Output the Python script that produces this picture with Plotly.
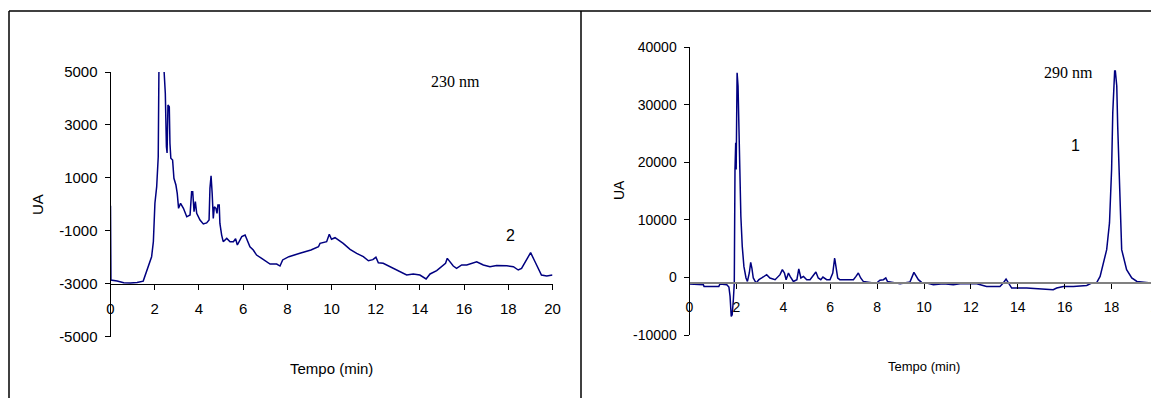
import plotly.graph_objects as go

# page body has an 8px margin: the figure starts 8px in, and the window clips it
OFF = 8
W, H = 1159, 398

# ---------------- data: 230 nm chromatogram ----------------
t230 = [0, 0.02, 0.3, 0.6, 0.9, 1.2, 1.48, 1.71, 1.86, 1.94,
        2.01, 2.09, 2.16, 2.19, 2.30, 2.42, 2.48, 2.53, 2.56, 2.60,
        2.66, 2.69, 2.73, 2.81, 2.87, 2.96, 3.02, 3.08, 3.17, 3.30,
        3.45, 3.60, 3.67, 3.72, 3.78, 3.84, 3.90, 4.05, 4.20, 4.35,
        4.46, 4.50, 4.55, 4.60, 4.65, 4.70, 4.77, 4.82, 4.86, 4.92,
        4.95, 5.03, 5.10, 5.26, 5.41, 5.56, 5.66, 5.74, 5.94, 6.09,
        6.19, 6.31, 6.46, 6.61, 6.84, 7.07, 7.22, 7.52, 7.67, 7.79,
        8.07, 8.57, 9.07, 9.41, 9.48, 9.78, 9.90, 10.0, 10.16, 10.53,
        10.84, 11.14, 11.44, 11.67, 11.87, 12.01, 12.12, 12.34, 12.65, 12.95,
        13.25, 13.40, 13.70, 14.00, 14.28, 14.46, 14.76, 14.99, 15.16, 15.24,
        15.36, 15.51, 15.66, 15.89, 16.12, 16.34, 16.57, 16.87, 17.17, 17.47,
        17.93, 18.23, 18.45, 18.60, 18.83, 19.01, 19.21, 19.43, 19.50, 19.74,
        20.0]
ua230 = [-50, -2860, -2900, -2960, -2970, -2950, -2900, -2355, -1978, -1411,
         40, 667, 1800, 4960, 7000, 5100, 4195, 2180, 1940, 3753,
         3690, 2306, 1740, 1675, 985, 730, 417, -150, 40, -150,
         -470, -400, 478, 478, -280, 100, -340, -590, -740, -700,
         -590, 606, 1080, 417, -530, -90, -150, -340, -25, -25,
         -720, -1160, -1411, -1285, -1411, -1411, -1300, -1535, -1220, -1160,
         -1350, -1600, -1725, -1915, -2040, -2167, -2255, -2255, -2330, -2100,
         -1977, -1850, -1725, -1600, -1473, -1411, -1130, -1320, -1260, -1473,
         -1700, -1850, -1977, -2130, -2090, -2000, -2205, -2227, -2355, -2480,
         -2580, -2670, -2630, -2670, -2820, -2630, -2505, -2355, -2227, -2040,
         -2167, -2330, -2420, -2290, -2290, -2227, -2167, -2290, -2355, -2310,
         -2320, -2355, -2480, -2420, -2100, -1825, -2167, -2545, -2670, -2710,
         -2670]

# ---------------- data: 290 nm chromatogram ----------------
t290 = [0, 0.59, 0.62, 1.25, 1.30, 1.59, 1.68, 1.73, 1.78, 1.82,
        1.87, 1.91, 1.94, 1.97, 1.99, 2.03, 2.07, 2.11, 2.15, 2.19,
        2.25, 2.32, 2.41, 2.47, 2.55, 2.61, 2.66, 2.72, 2.84, 2.96,
        3.08, 3.29, 3.43, 3.65, 3.86, 3.96, 4.05, 4.12, 4.22, 4.29,
        4.43, 4.58, 4.66, 4.75, 4.86, 5.00, 5.14, 5.28, 5.39, 5.49,
        5.60, 5.69, 5.85, 5.99, 6.11, 6.19, 6.25, 6.32, 6.41, 6.99,
        7.10, 7.20, 7.30, 7.41, 7.84, 7.98, 8.12, 8.27, 8.37, 8.44,
        8.98, 9.40, 9.57, 9.76, 9.90, 10.12, 10.40, 10.83, 11.25, 11.54,
        12.25, 12.67, 13.24, 13.38, 13.50, 13.60, 13.74, 14.38, 14.95, 15.24,
        15.51, 15.66, 15.94, 16.37, 16.94, 17.15, 17.37, 17.51, 17.62, 17.72,
        17.79, 17.91, 18.00, 18.05, 18.10, 18.13, 18.16, 18.22, 18.26, 18.33,
        18.38, 18.43, 18.64, 18.86, 19.08, 19.50, 19.78, 20.0]
ua290 = [-1150, -1270, -1565, -1565, -1150, -1270, -1670, -3300, -6780, -6490,
         -3880, -975, 18730, 23370, 18730, 35540, 33220, 23370, 14680, 10610,
         5390, 1910, -100, -700, 765, 2610, 1630, -100, -975, -400,
         -100, 470, -100, -400, 470, 1340, 765, -400, 765, 175,
         -700, -400, 1460, -100, 175, -400, -400, 470, 940, -100,
         -400, 50, -400, -400, 765, 3370, 1910, -100, -400, -400,
         175, 765, -100, -700, -975, -975, -500, -400, -100, -700,
         -1100, -800, 870, -400, -870, -975, -1270, -1100, -1270, -1100,
         -1100, -1565, -1565, -975, -280, -975, -1845, -1845, -1965, -2140,
         -2140, -1845, -1565, -1565, -1390, -975, -870, 175, 1910, 3650,
         4820, 9460, 18730, 28590, 33800, 35820, 35820, 33220, 26260, 18730,
         10000, 4820, 1340, -100, -700, -870, -975, -1150]

x_ticks = [0, 2, 4, 6, 8, 10, 12, 14, 16, 18, 20]
y_ticks_230 = [-5000, -3000, -1000, 1000, 3000, 5000]
y_ticks_290 = [-10000, 0, 10000, 20000, 30000, 40000]
x_range = [0, 20]
y_range_230 = [-5000, 5000]
y_range_290 = [-10000, 40000]
x_cross_230 = -3000
x_cross_290 = -1000

SANS = "Liberation Sans, Arial, sans-serif"
SERIF = "Liberation Serif, Times New Roman, serif"
LINE = "#000080"


def px(v):
    # window pixel -> paper fraction
    return (v - OFF) / W


def py(v):
    return 1 - (v - OFF) / H


xd1 = [px(110.5), px(552.5)]
yd1 = [py(336.7), py(72)]
xd2 = [px(689.5), px(1158.5)]
yd2 = [py(335), py(47)]


def cross_pos(dom, rng, val):
    return dom[0] + (val - rng[0]) / (rng[1] - rng[0]) * (dom[1] - dom[0])


fig = go.Figure()
fig.add_trace(go.Scatter(x=t230, y=ua230, mode="lines", xaxis="x", yaxis="y",
                         line=dict(color=LINE, width=1.5)))
fig.add_trace(go.Scatter(x=t290, y=ua290, mode="lines", xaxis="x2", yaxis="y2",
                         line=dict(color=LINE, width=1.5)))

common_x = dict(range=x_range, tickvals=x_ticks, ticktext=[str(v) for v in x_ticks],
                ticks="outside", ticklen=5, automargin=False, ticklabeloverflow="allow",
                tickcolor="black", showgrid=False, zeroline=False, showline=True,
                anchor="free", ticklabelstandoff=6)
common_y = dict(ticks="outside", ticklen=5, tickcolor="black", showgrid=False,
                zeroline=False, showline=True, linecolor="black", linewidth=1,
                ticklabelstandoff=4, automargin=False)

fig.update_layout(
    width=W, height=H, margin=dict(l=0, r=0, t=0, b=0, pad=0, autoexpand=False),
    paper_bgcolor="white", plot_bgcolor="white", showlegend=False,
    xaxis=dict(domain=xd1, position=cross_pos(yd1, y_range_230, x_cross_230),
               linecolor="black", linewidth=1,
               tickfont=dict(family=SANS, size=15, color="black"), **common_x),
    yaxis=dict(domain=yd1, range=y_range_230, tickvals=y_ticks_230,
               ticktext=[str(v) for v in y_ticks_230], anchor="x",
               tickfont=dict(family=SANS, size=15, color="black"), **common_y),
    xaxis2=dict(domain=xd2, position=cross_pos(yd2, y_range_290, x_cross_290),
                linecolor="#808080", linewidth=2,
                tickfont=dict(family=SANS, size=14, color="black"), **common_x),
    yaxis2=dict(domain=yd2, range=y_range_290, tickvals=y_ticks_290,
                ticktext=[str(v) for v in y_ticks_290], anchor="x2",
                tickfont=dict(family=SANS, size=14, color="black"), **common_y),
)

ann = [
    dict(text="230 nm", x=15.63, y=4660, xref="x", yref="y",
         font=dict(family=SERIF, size=16, color="black")),
    dict(text="2", x=18.08, y=-1184, xref="x", yref="y",
         font=dict(family=SANS, size=16, color="black")),
    dict(text="290 nm", x=16.17, y=35650, xref="x2", yref="y2",
         font=dict(family=SERIF, size=16, color="black")),
    dict(text="1", x=16.48, y=22957, xref="x2", yref="y2",
         font=dict(family=SANS, size=16, color="black")),
    dict(text="UA", x=px(37), y=py(205), xref="paper", yref="paper", textangle=-90,
         font=dict(family=SANS, size=15, color="black")),
    dict(text="UA", x=px(619), y=py(190), xref="paper", yref="paper", textangle=-90,
         font=dict(family=SANS, size=14, color="black")),
    dict(text="Tempo (min)", x=px(331.5), y=py(368), xref="paper", yref="paper",
         font=dict(family=SANS, size=15, color="black")),
    dict(text="Tempo (min)", x=px(924), y=py(366.7), xref="paper", yref="paper",
         font=dict(family=SANS, size=13, color="black")),
]
for a in ann:
    a.update(showarrow=False, xanchor="center", yanchor="middle")
fig.update_layout(annotations=ann)

border = dict(color="black", width=1.5)
fig.update_layout(shapes=[
    dict(type="line", xref="paper", yref="paper", x0=px(9), x1=1, y0=py(11), y1=py(11), line=border),
    dict(type="line", xref="paper", yref="paper", x0=px(9), x1=px(9), y0=py(11), y1=0, line=border),
    dict(type="line", xref="paper", yref="paper", x0=px(581), x1=px(581), y0=py(11), y1=0, line=border),
])

fig.write_html("out.html")
